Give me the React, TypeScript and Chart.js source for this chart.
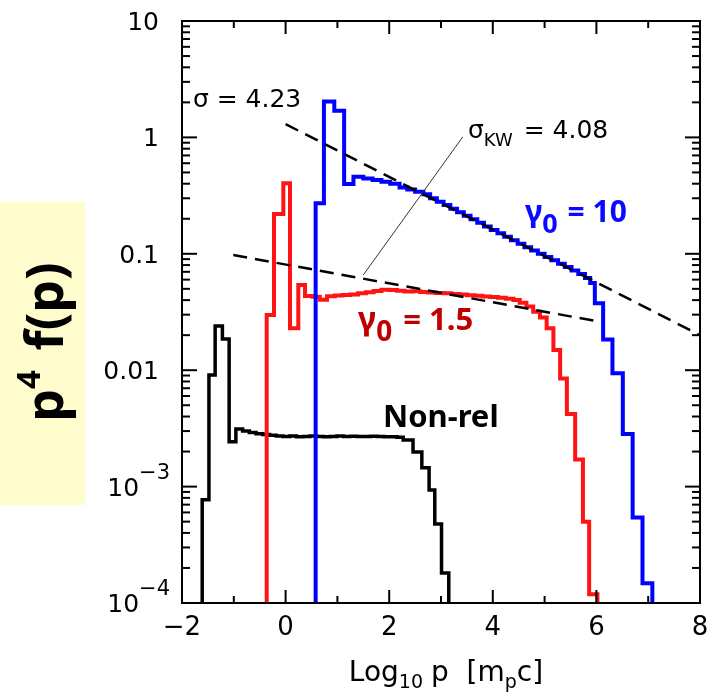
import React, { useEffect, useRef } from 'react';
import { Chart, registerables } from 'chart.js';

Chart.register(...registerables);

// ---------- data ----------
const FLOOR = 1e-6; // below the axis: used for the vertical entry/exit of each histogram

const xTicks = [-2, 0, 2, 4, 6, 8];
const xTickLabels = ['−2', '0', '2', '4', '6', '8'];
const yTickValues = [1e-4, 1e-3, 1e-2, 1e-1, 1, 10];
const yTickLabels = ['10^−4', '10^−3', '0.01', '0.1', '1', '10'];

// Non-rel (black) histogram: bin edges (log10 p) and p^4 f(p) per bin
const blackEdges = [-1.61, -1.48, -1.36, -1.22, -1.09, -0.96, -0.83, -0.70, -0.57, -0.44, -0.31, -0.18, -0.05,
  0.08, 0.21, 0.34, 0.47, 0.60, 0.73, 0.86, 0.99, 1.12, 1.25, 1.38, 1.51, 1.64, 1.77, 1.90,
  2.03, 2.15, 2.27, 2.46, 2.63, 2.77, 2.88, 3.01, 3.15];
const blackValues = [0.00077, 0.0091, 0.024, 0.0185, 0.00243, 0.00313, 0.00300, 0.00292, 0.00285, 0.00280, 0.00276, 0.00272, 0.00270,
  0.00272, 0.00268, 0.00270, 0.00272, 0.00270, 0.00268, 0.00270, 0.00272, 0.00270, 0.00271, 0.00269, 0.00270, 0.00271, 0.00270, 0.00268,
  0.00268, 0.00265, 0.00251, 0.00198, 0.00145, 0.000935, 0.000478, 0.000181];

// gamma0 = 1.5 (red)
const redEdges = [-0.365, -0.224, -0.044, 0.085, 0.245, 0.375, 0.52, 0.66, 0.80, 0.95, 1.10, 1.25, 1.40, 1.55, 1.70, 1.85,
  2.00, 2.15, 2.30, 2.45, 2.60, 2.75, 2.90, 3.05, 3.20, 3.35, 3.50, 3.65, 3.80, 3.95, 4.10, 4.25, 4.40, 4.52, 4.65, 4.78,
  4.91, 5.04, 5.17, 5.30, 5.43, 5.59, 5.74, 5.86, 6.02];
const redValues = [0.0298, 0.22, 0.404, 0.0229, 0.054, 0.0434, 0.0428, 0.0402, 0.0432, 0.0438, 0.0442, 0.0447, 0.0458, 0.0468, 0.0480, 0.0490,
  0.0488, 0.0482, 0.0475, 0.0476, 0.0470, 0.0465, 0.0460, 0.0458, 0.0452, 0.0446, 0.0440, 0.0436, 0.0430, 0.0426, 0.0420, 0.0412, 0.0400, 0.0380, 0.0352, 0.0318,
  0.0283, 0.0229, 0.0149, 0.0085, 0.0042, 0.00171, 0.0005, 0.000119];

// gamma0 = 10 (blue)
const blueEdges = [0.58, 0.74, 0.94, 1.13, 1.31, 1.50, 1.68, 1.85, 2.02, 2.20, 2.35, 2.50, 2.66,
  2.79, 2.92, 3.05, 3.18, 3.31, 3.44, 3.57, 3.70, 3.83, 3.96, 4.09, 4.22, 4.35, 4.48, 4.61, 4.74, 4.87, 5.00, 5.13, 5.26,
  5.39, 5.52, 5.65, 5.78, 5.88, 5.97, 6.13, 6.31, 6.51, 6.70, 6.89, 7.08];
const blueValues = [0.272, 2.03, 1.69, 0.398, 0.46, 0.444, 0.430, 0.416, 0.400, 0.372, 0.356, 0.342, 0.325,
  0.300, 0.280, 0.262, 0.244, 0.228, 0.212, 0.198, 0.185, 0.172, 0.160, 0.150, 0.140, 0.131, 0.122, 0.114, 0.107, 0.100, 0.094, 0.088, 0.082,
  0.077, 0.072, 0.067, 0.062, 0.056, 0.0376, 0.0184, 0.0094, 0.00283, 0.000544, 0.000148];

// power-law fits (dashed) and label pointer
const sigmaX = [0, 8];
const sigmaY = [1.30, 0.020];
const kwX = [-1.01, 6.06];
const kwY = [0.0977, 0.0261];
const pointerX = [3.42, 1.50];
const pointerY = [1.01, 0.0658];

// ---------- helpers ----------
function stepData(edges: number[], values: number[]) {
  const pts: { x: number; y: number }[] = [{ x: edges[0], y: FLOOR }];
  values.forEach((v, i) => pts.push({ x: edges[i], y: v }));
  pts.push({ x: edges[edges.length - 1], y: FLOOR });
  return pts;
}
function pairData(xs: number[], ys: number[]) {
  return xs.map((x, i) => ({ x, y: ys[i] }));
}

type Run = { t: string; font: string; dy?: number; gap?: number };
function drawRuns(ctx: CanvasRenderingContext2D, runs: Run[], x: number, y: number, align: 'left' | 'center' | 'right', color: string) {
  let total = 0;
  const widths = runs.map((r) => {
    ctx.font = r.font;
    const w = ctx.measureText(r.t).width + (r.gap || 0);
    total += w;
    return w;
  });
  let cx = align === 'left' ? x : align === 'center' ? x - total / 2 : x - total;
  ctx.fillStyle = color;
  ctx.textAlign = 'left';
  ctx.textBaseline = 'alphabetic';
  runs.forEach((r, i) => {
    ctx.font = r.font;
    ctx.fillText(r.t, cx, y + (r.dy || 0));
    cx += widths[i];
  });
}

const SANS = '"DejaVu Sans"';
const BOLD = '"Noto Sans"';

const decor = {
  id: 'decor',
  beforeDraw(chart: any) {
    const ctx: CanvasRenderingContext2D = chart.ctx;
    ctx.save();
    ctx.fillStyle = '#ffffff';
    ctx.fillRect(0, 0, chart.width, chart.height);
    ctx.fillStyle = 'rgb(255,252,205)';
    ctx.fillRect(0, 202, 85, 303);
    ctx.translate(63, 342);
    ctx.rotate(-Math.PI / 2);
    drawRuns(ctx, [
      { t: 'p', font: `bold 52px ${BOLD}` },
      { t: '4', font: `bold 33px ${BOLD}`, dy: -23, gap: 6 },
      { t: ' f(p)', font: `bold 52px ${BOLD}` },
    ], 0, 0, 'center', '#000');
    ctx.restore();
  },
  afterDatasetsDraw(chart: any) {
    const ctx: CanvasRenderingContext2D = chart.ctx;
    const a = chart.chartArea;
    const xs = chart.scales.x;
    const ys = chart.scales.y;
    ctx.save();
    ctx.strokeStyle = '#000';
    ctx.lineWidth = 2;
    ctx.lineCap = 'butt';
    ctx.strokeRect(a.left, a.top, a.right - a.left, a.bottom - a.top);
    const seg = (x1: number, y1: number, x2: number, y2: number) => {
      ctx.beginPath(); ctx.moveTo(x1, y1); ctx.lineTo(x2, y2); ctx.stroke();
    };
    // x ticks (inward, bottom and top)
    for (let v = xTicks[0]; v <= xTicks[xTicks.length - 1]; v += 1) {
      const px = xs.getPixelForValue(v);
      const len = xTicks.includes(v) ? 13 : 7;
      seg(px, a.bottom, px, a.bottom - len);
      seg(px, a.top, px, a.top + len);
    }
    // y ticks (inward, left and right)
    for (let i = 0; i < yTickValues.length; i++) {
      const dec = yTickValues[i];
      const maxM = i === yTickValues.length - 1 ? 1 : 9;
      for (let m = 1; m <= maxM; m++) {
        const py = ys.getPixelForValue(dec * m);
        const len = m === 1 ? 15 : 8;
        seg(a.left, py, a.left + len, py);
        seg(a.right, py, a.right - len, py);
      }
    }
    // y tick labels
    yTickLabels.forEach((lab, i) => {
      const py = ys.getPixelForValue(yTickValues[i]) + 9;
      const parts = lab.split('^');
      if (parts.length === 2) {
        drawRuns(ctx, [
          { t: parts[0], font: `25px ${SANS}` },
          { t: parts[1], font: `21px ${SANS}`, dy: -17 },
        ], 170, py, 'right', '#000');
      } else {
        drawRuns(ctx, [{ t: parts[0], font: `25px ${SANS}` }], 159, py, 'right', '#000');
      }
    });
    // x title
    drawRuns(ctx, [
      { t: 'Log', font: `28px ${SANS}` },
      { t: '10', font: `19px ${SANS}`, dy: 7, gap: 8 },
      { t: 'p  [m', font: `28px ${SANS}` },
      { t: 'p', font: `19px ${SANS}`, dy: 7 },
      { t: 'c]', font: `28px ${SANS}` },
    ], (a.left + a.right) / 2 + 5, 681, 'center', '#000');

    // annotations anchored at data coordinates
    const P = (x: number, y: number) => [xs.getPixelForValue(x), ys.getPixelForValue(y)];
    let [px, py] = P(-1.79, 1.82);
    drawRuns(ctx, [{ t: 'σ = 4.23', font: `25px ${SANS}` }], px, py, 'left', '#000');
    [px, py] = P(3.52, 0.99);
    drawRuns(ctx, [
      { t: 'σ', font: `25px ${SANS}` },
      { t: 'KW', font: `18px ${SANS}`, dy: 8, gap: 3 },
      { t: ' = 4.08', font: `25px ${SANS}` },
    ], px, py, 'left', '#000');
    [px, py] = P(4.62, 0.1875);
    drawRuns(ctx, [
      { t: 'γ', font: `bold 31px ${BOLD}` },
      { t: '0', font: `bold 27px ${BOLD}`, dy: 11, gap: 2 },
      { t: ' = 10', font: `bold 30px ${BOLD}` },
    ], px, py, 'left', '#0a0aff');
    [px, py] = P(1.40, 0.0221);
    drawRuns(ctx, [
      { t: 'γ', font: `bold 32px ${BOLD}` },
      { t: '0', font: `bold 28px ${BOLD}`, dy: 11, gap: 3 },
      { t: ' = 1.5', font: `bold 31px ${BOLD}` },
    ], px, py, 'left', '#c00000');
    [px, py] = P(1.88, 0.00325);
    drawRuns(ctx, [{ t: 'Non-rel', font: `bold 31px ${BOLD}` }], px, py, 'left', '#000');
    ctx.restore();
  },
};

export default function App() {
  const ref = useRef<HTMLCanvasElement | null>(null);
  useEffect(() => {
    if (!ref.current) return;
    const chart = new Chart(ref.current, {
      type: 'line',
      data: {
        datasets: [
          { label: 'σ = 4.23', data: pairData(sigmaX, sigmaY), borderColor: '#000', borderWidth: 2.5, borderDash: [14, 8], pointRadius: 0, fill: false },
          { label: 'σKW = 4.08', data: pairData(kwX, kwY), borderColor: '#000', borderWidth: 2.5, borderDash: [14, 8], pointRadius: 0, fill: false },
          { label: 'pointer', data: pairData(pointerX, pointerY), borderColor: '#333', borderWidth: 1, pointRadius: 0, fill: false },
          { label: 'γ0 = 10', data: stepData(blueEdges, blueValues), borderColor: '#0000ff', borderWidth: 4, stepped: true, pointRadius: 0, fill: false },
          { label: 'γ0 = 1.5', data: stepData(redEdges, redValues), borderColor: '#ff1414', borderWidth: 4, stepped: true, pointRadius: 0, fill: false },
          { label: 'Non-rel', data: stepData(blackEdges, blackValues), borderColor: '#000', borderWidth: 3.5, stepped: true, pointRadius: 0, fill: false },
        ] as any,
      },
      options: {
        animation: false,
        responsive: false,
        events: [],
        plugins: { legend: { display: false }, tooltip: { enabled: false } },
        layout: { padding: { top: 21, right: 11, left: 0, bottom: 0 } },
        scales: {
          x: {
            type: 'linear', min: -2, max: 8,
            afterBuildTicks: (s: any) => { s.ticks = xTicks.map((v) => ({ value: v })); },
            afterFit: (s: any) => { s.height = 91; s.paddingLeft = 0; s.paddingRight = 0; },
            ticks: {
              autoSkip: false, maxRotation: 0, padding: 10, color: '#000',
              font: { family: 'DejaVu Sans', size: 26 },
              callback: (v: any) => xTickLabels[xTicks.indexOf(Number(v))],
            },
            grid: { display: false, drawTicks: false },
            border: { display: false },
          },
          y: {
            type: 'logarithmic', min: 1e-4, max: 10,
            afterBuildTicks: (s: any) => { s.ticks = yTickValues.map((v) => ({ value: v })); },
            afterFit: (s: any) => { s.width = 182; s.paddingTop = 0; s.paddingBottom = 0; },
            ticks: { display: false },
            grid: { display: false, drawTicks: false },
            border: { display: false },
          },
        },
      } as any,
      plugins: [decor],
    });
    return () => chart.destroy();
  }, []);
  return (
    <div style={{ position: 'fixed', left: 0, top: 0, width: 711, height: 694, background: '#fff' }}>
      <canvas ref={ref} width={711} height={694} style={{ display: 'block', width: 711, height: 694 }} />
    </div>
  );
}
